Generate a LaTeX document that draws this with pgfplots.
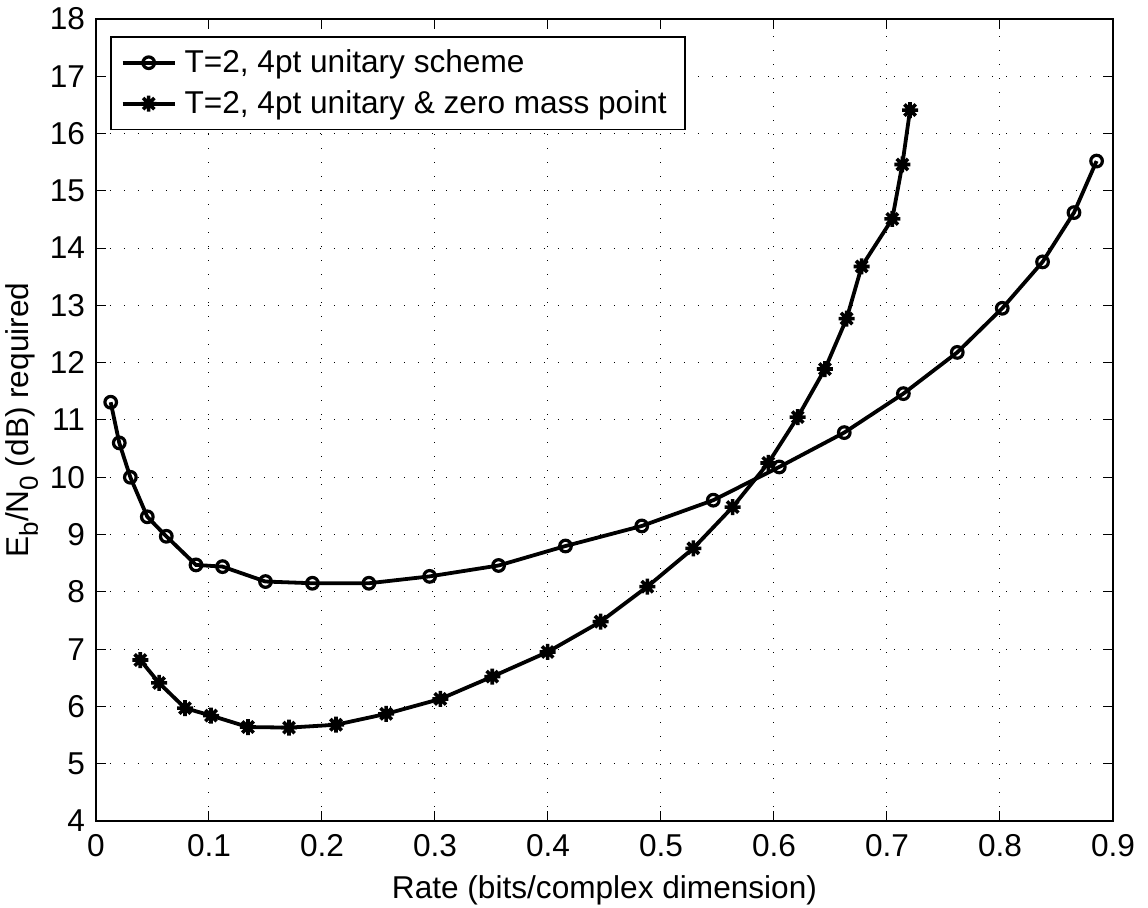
\documentclass[border=0pt]{standalone}
\usepackage{fontspec}
\setmainfont{Liberation Sans}
\usepackage{pgfplots}
\pgfplotsset{compat=1.18}

% eight-armed asterisk: a plus and a cross laid over each other
\pgfdeclareplotmark{mstar}{%
  \pgfpathmoveto{\pgfqpoint{-\pgfplotmarksize}{0pt}}%
  \pgfpathlineto{\pgfqpoint{\pgfplotmarksize}{0pt}}%
  \pgfpathmoveto{\pgfqpoint{0pt}{-\pgfplotmarksize}}%
  \pgfpathlineto{\pgfqpoint{0pt}{\pgfplotmarksize}}%
  \pgfpathmoveto{\pgfqpoint{-.7071\pgfplotmarksize}{-.7071\pgfplotmarksize}}%
  \pgfpathlineto{\pgfqpoint{.7071\pgfplotmarksize}{.7071\pgfplotmarksize}}%
  \pgfpathmoveto{\pgfqpoint{-.7071\pgfplotmarksize}{.7071\pgfplotmarksize}}%
  \pgfpathlineto{\pgfqpoint{.7071\pgfplotmarksize}{-.7071\pgfplotmarksize}}%
  \pgfusepathqstroke}

\newcommand{\figfont}{\fontsize{15.8}{19}\selectfont}
\newcommand{\lowsub}[1]{\raisebox{-0.55ex}{\fontsize{13}{15}\selectfont #1}}

\begin{document}
\begin{tikzpicture}
\useasboundingbox (-48pt,-43.5pt) rectangle (526pt,410.5pt);
\begin{axis}[
  at={(0,0)}, anchor=south west,
  scale only axis, width=508.5pt, height=401pt,
  xmin=0, xmax=0.9, ymin=4, ymax=18,
  xtick={0,0.1,0.2,0.3,0.4,0.5,0.6,0.7,0.8,0.9},
  ytick={4,5,6,7,8,9,10,11,12,13,14,15,16,17,18},
  /pgf/number format/assume math mode=true,
  grid=major,
  major grid style={black, line width=0.5pt, dash pattern=on 0.6pt off 6.4pt},
  tick align=inside, tickpos=both, major tick length=5pt,
  tick style={black, line width=0.5pt},
  axis line style={black, line width=0.9pt},
  ticklabel style={font=\figfont},
  xticklabel style={yshift=-3pt},
  yticklabel style={xshift=-2pt},
  label style={font=\figfont},
  xlabel={Rate (bits/complex dimension)},
  ylabel={E\lowsub{b}/N\lowsub{0} (dB) required},
  xlabel style={at={(axis description cs:0.5,-0.086)}, anchor=center},
  ylabel style={at={(axis description cs:-0.0728,0.5)}, anchor=center},
  legend style={at={(0,1)}, anchor=north west, xshift=7pt, yshift=-8.5pt,
    draw=black, line width=0.8pt, font=\figfont, row sep=3.5pt,
    inner xsep=5pt, inner ysep=4.5pt,
    /tikz/every even column/.append style={column sep=0pt},
    nodes={inner xsep=4pt}},
  legend cell align=left,
  legend image code/.code={%
    \draw[mark repeat=2, mark phase=2] plot coordinates {(0pt,0pt) (13pt,0pt) (26pt,0pt)};},
]
\addplot[black, line width=1.9pt, mark=o, mark size=2.9pt,
  mark options={line width=1.6pt}] coordinates {
  (0.013,11.31) (0.0206,10.60) (0.0304,10.00) (0.0454,9.31) (0.0622,8.97)
  (0.0885,8.47) (0.112,8.44) (0.150,8.18) (0.1915,8.15) (0.2415,8.15)
  (0.2953,8.27) (0.3563,8.46) (0.4155,8.80) (0.483,9.15) (0.5463,9.60)
  (0.6047,10.18) (0.6622,10.78) (0.7145,11.46) (0.7622,12.18) (0.802,12.95)
  (0.8377,13.76) (0.8655,14.62) (0.8855,15.52)};
\addlegendentry{T=2, 4pt unitary scheme}
\addplot[black, line width=1.9pt, mark=mstar, mark size=4pt,
  mark options={line width=1.8pt}] coordinates {
  (0.0392,6.81) (0.0558,6.41) (0.0788,5.97) (0.1018,5.84) (0.1345,5.64)
  (0.1708,5.63) (0.2124,5.68) (0.2568,5.87) (0.3047,6.13) (0.3507,6.52)
  (0.3997,6.95) (0.4466,7.48) (0.4879,8.09) (0.5286,8.76) (0.5634,9.48)
  (0.5950,10.25) (0.621,11.05) (0.6451,11.89) (0.6643,12.77) (0.6776,13.68)
  (0.7047,14.51) (0.7136,15.46) (0.7204,16.41)};
\addlegendentry{T=2, 4pt unitary \& zero mass point}
\end{axis}
\end{tikzpicture}
\end{document}
